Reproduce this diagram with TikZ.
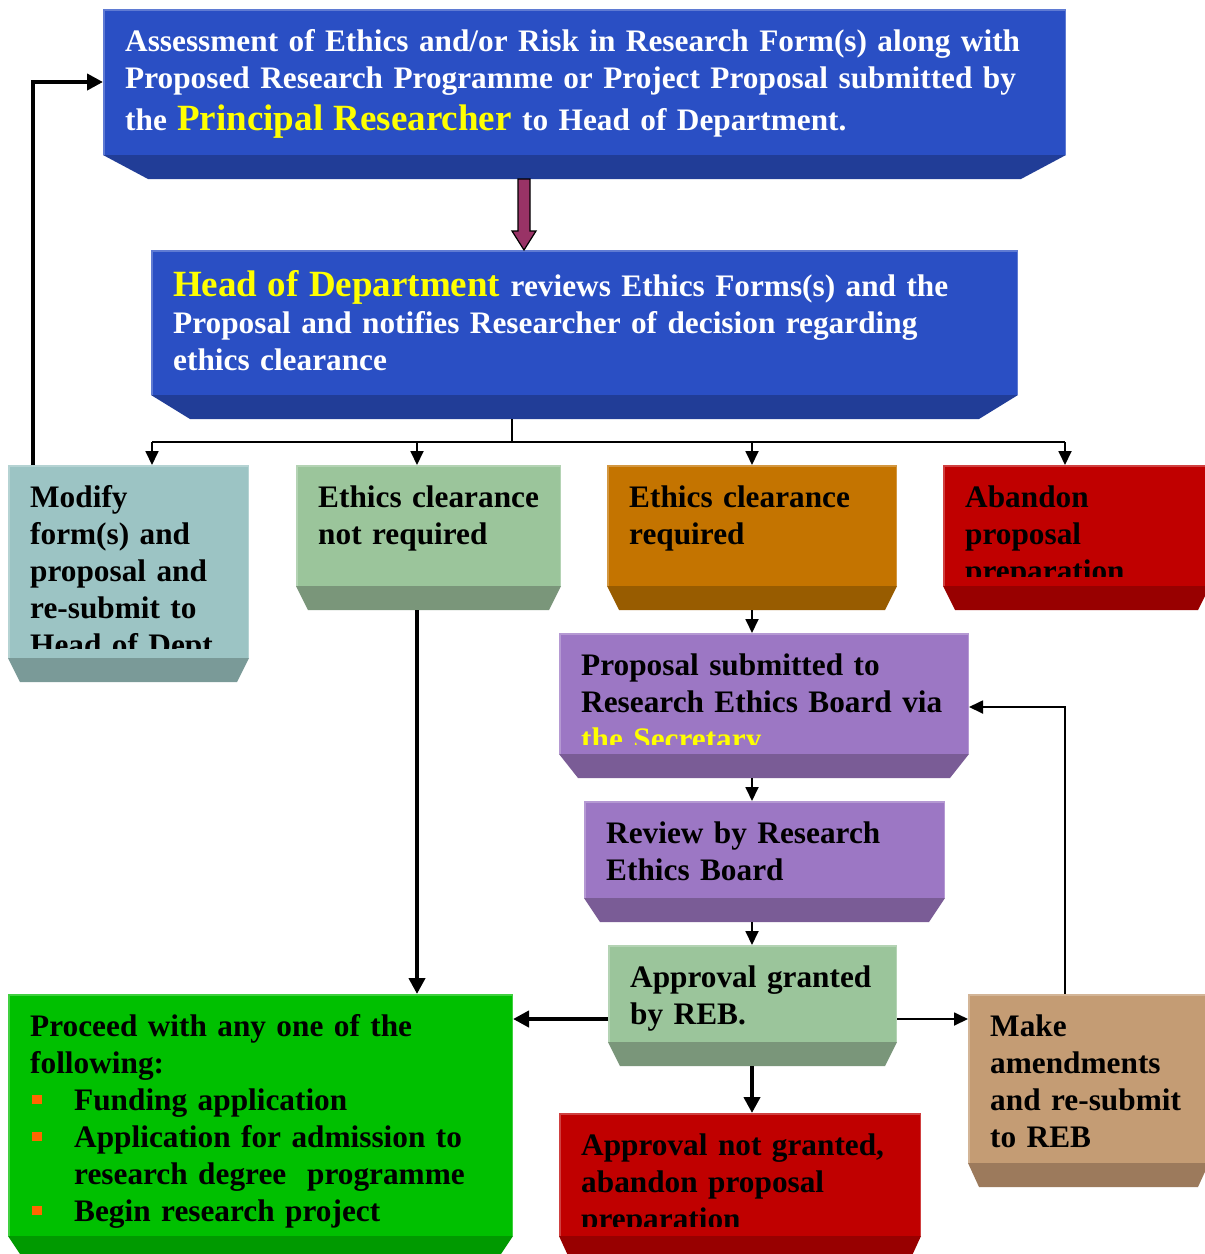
\documentclass[tikz,border=0pt]{standalone}
\usepackage{fontspec}
\setmainfont{Liberation Serif}
\usetikzlibrary{arrows.meta,calc}
\definecolor{bluef}{HTML}{2A4FC4}
\definecolor{blueb}{HTML}{213D97}
\definecolor{tealf}{HTML}{9CC4C4}
\definecolor{tealb}{HTML}{7A9A98}
\definecolor{sagef}{HTML}{9BC59B}
\definecolor{sageb}{HTML}{7A967A}
\definecolor{orangef}{HTML}{C47400}
\definecolor{orangeb}{HTML}{985C00}
\definecolor{redf}{HTML}{C00000}
\definecolor{redb}{HTML}{980000}
\definecolor{purplef}{HTML}{9C77C4}
\definecolor{purpleb}{HTML}{7A5C96}
\definecolor{greenf}{HTML}{00C000}
\definecolor{greenb}{HTML}{009A00}
\definecolor{tanf}{HTML}{C49C74}
\definecolor{tanb}{HTML}{9C7A5C}
\definecolor{hiyellow}{HTML}{FFFF00}
\definecolor{bulletc}{HTML}{FF6600}
\definecolor{arrowpurple}{HTML}{993366}
\tikzset{
  boxface/.style={rectangle, inner sep=0pt, outer sep=0pt, anchor=north west},
  txt/.style={anchor=base west, inner sep=0pt, text width=1100pt, align=left,
    font=\bfseries\fontsize{31.3}{37}\selectfont},
  linethin/.style={line width=1.8pt},
  linethick/.style={line width=4.5pt},
  tipthin/.style={-{Triangle[width=13pt,length=14pt]}},
  tipthick/.style={-{Triangle[width=16pt,length=16pt]}},
}
% name, x1, y1, x2, y2, face colour, bevel colour, bevel inset
\newcommand\flowbox[8]{%
  \node[boxface, fill=#6, minimum width={(#4-#2)*1pt}, minimum height={(#5-#3)*1pt}] (#1) at (#2,#3) {};
  \draw[#6!75!white, line width=1.5pt] ($(#1.south west)+(0.75,0)$) -- ($(#1.north west)+(0.75,0.75)$)
     -- ($(#1.north east)+(-0.75,0.75)$) -- ($(#1.south east)+(-0.75,0)$);
  \fill[#7] (#1.south west) -- (#1.south east) -- ($(#1.south east)+(-#8,24)$) -- ($(#1.south west)+(#8,24)$) -- cycle;
  \coordinate (#1-b) at ($(#1.south)+(0,24)$);
}
% [baseline offset] name, clip gap, text
\newcommand\boxtext[4][42]{%
  \begin{scope}
    \clip (#2.north west) rectangle ($(#2.south east)+(0,-#3)$);
    \node[txt] (#2-t) at ($(#2.north west)+(22,#1)$) {#4};
  \end{scope}
}
\newcommand\bul{\makebox[44pt][l]{\hspace{2pt}\textcolor{bulletc}{\rule[6pt]{10pt}{9pt}}}}
\newcommand\bigfnt{\fontsize{37}{37}\selectfont}
\begin{document}
\begin{tikzpicture}[x=1pt,y=-1pt]
\useasboundingbox (0,0) rectangle (1205,1254);
\fill[white] (0,0) rectangle (1205,1254);
\clip (0,0) rectangle (1205,1254);

\flowbox{b1}{103}{9}{1066}{155}{bluef}{blueb}{45}
\flowbox{b2}{151}{250}{1018}{395}{bluef}{blueb}{39}
\flowbox{b3}{8}{465}{249}{658}{tealf}{tealb}{12}
\flowbox{b4}{296}{465}{561}{586}{sagef}{sageb}{12}
\flowbox{b5}{607}{465}{897}{586}{orangef}{orangeb}{12}
\flowbox{b6}{943}{465}{1210}{586}{redf}{redb}{12}
\flowbox{b7}{559}{633}{969}{754}{purplef}{purpleb}{19}
\flowbox{b8}{584}{801}{945}{898}{purplef}{purpleb}{16}
\flowbox{b9}{608}{945}{897}{1042}{sagef}{sageb}{12}
\flowbox{b10}{8}{994}{513}{1236}{greenf}{greenb}{16}
\flowbox{b11}{968}{994}{1209}{1163}{tanf}{tanb}{11}
\flowbox{b12}{559}{1113}{921}{1236}{redf}{redb}{11}

\boxtext{b1}{0}{\color{white}Assessment of Ethics and/or Risk in Research Form(s) along with\\
Proposed Research Programme or Project Proposal submitted by\\[5pt]
the {\color{hiyellow}\bigfnt Principal Researcher} to Head of Department.}
\boxtext[46]{b2}{0}{\color{white}{\color{hiyellow}\bigfnt Head of Department} reviews Ethics Forms(s) and the\\
Proposal and notifies Researcher of decision regarding\\
ethics clearance}
\boxtext{b3}{10}{Modify\\ form(s) and\\ proposal and\\ re-submit to\\ Head of Dept}
\boxtext{b4}{10}{Ethics clearance\\ not required}
\boxtext{b5}{10}{Ethics clearance\\ required}
\boxtext{b6}{10}{Abandon\\ proposal\\ preparation}
\boxtext{b7}{10}{Proposal submitted to\\ Research Ethics Board via\\ {\color{hiyellow}the Secretary}}
\boxtext{b8}{10}{Review by Research\\ Ethics Board}
\boxtext{b9}{10}{Approval granted\\ by REB.}
\boxtext{b10}{0}{Proceed with any one of the\\
following:\\
\bul Funding application\\
\bul Application for admission to\\
\hspace*{44pt}research degree\ \ programme\\
\bul Begin research project}
\boxtext{b11}{10}{Make\\ amendments\\ and re-submit\\ to REB}
\boxtext{b12}{10}{Approval not granted,\\ abandon proposal\\ preparation}

% columns and rows
\coordinate (colA) at (33,0);
\coordinate (colB) at (152,0);
\coordinate (colC) at (417,0);
\coordinate (colS) at (512,0);
\coordinate (colP) at (524,0);
\coordinate (colD) at (752,0);
\coordinate (colE) at (1065,0);
\coordinate (rowB) at (0,442);
\coordinate (rowR) at (0,707);
\coordinate (rowG) at (0,1019);

% block arrow box1 -> box2
\draw[line width=1.2pt, fill=arrowpurple, line join=miter]
  ($(colP |- b1-b)+(-6,0)$) -- ($(colP |- b1-b)+(6,0)$) -- ($(colP |- b2.north)+(6,-19)$)
  -- ($(colP |- b2.north)+(12,-19)$) -- (colP |- b2.north) -- ($(colP |- b2.north)+(-12,-19)$)
  -- ($(colP |- b2.north)+(-6,-19)$) -- cycle;

% branching from box2
\draw[linethin] (colS |- b2-b) -- (colS |- rowB);
\draw[linethin] (colB |- rowB) -- (colE |- rowB);
\draw[linethin,tipthin] (colB |- rowB) -- (colB |- b3.north);
\draw[linethin,tipthin] (colC |- rowB) -- (colC |- b4.north);
\draw[linethin,tipthin] (colD |- rowB) -- (colD |- b5.north);
\draw[linethin,tipthin] (colE |- rowB) -- (colE |- b6.north);

% main chain
\draw[linethin,tipthin] (colD |- b5-b) -- (colD |- b7.north);
\draw[linethin,tipthin] (colD |- b7-b) -- (colD |- b8.north);
\draw[linethin,tipthin] (colD |- b8-b) -- (colD |- b9.north);
\draw[linethick,tipthick] (colD |- b9-b) -- (colD |- b12.north);
\draw[linethick,tipthick] (b9.west |- rowG) -- (b10.east |- rowG);
\draw[linethin,tipthin] (b9.east |- rowG) -- (b11.west |- rowG);
\draw[linethick,tipthick] (colC |- b4-b) -- (colC |- b10.north);

% feedback loops
\draw[linethick,tipthick] (colA |- b3.north) |- (b1.west);
\draw[linethin,tipthin] (colE |- b11.north) |- (b7.east |- rowR);
\end{tikzpicture}
\end{document}
